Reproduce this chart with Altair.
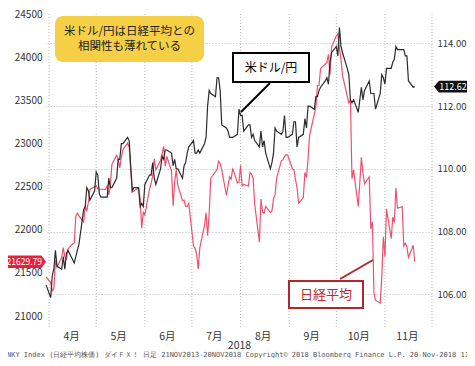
import altair as alt
import pandas as pd

# ---- data ----
nk_dates = ["03-30","04-02","04-03","04-04","04-05","04-06","04-09","04-10","04-11","04-12","04-13",
            "04-16","04-17","04-18","04-19","04-20","04-23","04-24","04-25","04-26","04-27",
            "05-01","05-02","05-07","05-08","05-09","05-10","05-11","05-14","05-15","05-16","05-17","05-18",
            "05-21","05-22","05-23","05-24","05-25","05-28","05-29","05-30","05-31","06-01",
            "06-04","06-05","06-06","06-07","06-08","06-11","06-12","06-13","06-14","06-15",
            "06-18","06-19","06-20","06-21","06-22","06-25","06-26","06-27","06-28","06-29",
            "07-02","07-03","07-04","07-05","07-06","07-09","07-10","07-11","07-12","07-13",
            "07-17","07-18","07-19","07-20","07-23","07-24","07-25","07-26","07-27","07-30","07-31",
            "08-01","08-02","08-03","08-06","08-07","08-08","08-09","08-10","08-13","08-14","08-15","08-16","08-17",
            "08-20","08-21","08-22","08-23","08-24","08-27","08-28","08-29","08-30","08-31",
            "09-03","09-04","09-05","09-06","09-07","09-10","09-11","09-12","09-13","09-14",
            "09-18","09-19","09-20","09-21","09-25","09-26","09-27","09-28",
            "10-01","10-02","10-03","10-04","10-05","10-09","10-10","10-11","10-12",
            "10-15","10-16","10-17","10-18","10-19","10-22","10-23","10-24","10-25","10-26",
            "10-29","10-30","10-31","11-01","11-02","11-05","11-06","11-07","11-08","11-09",
            "11-12","11-13","11-14","11-15","11-16","11-19","11-20"]
nk_values = [21454,21388,21292,21319,21645,21567,21678,21794,21687,21660,21778,
             21835,21847,22158,22191,22162,22088,22278,22215,22319,22467,
             22508,22472,22467,22508,22408,22497,22758,22865,22818,22717,22838,22930,
             23002,22960,22689,22437,22450,22481,22358,22018,22201,22171,
             22475,22539,22625,22823,22694,22804,22878,22966,22738,22851,
             22680,22278,22555,22693,22516,22338,22342,22271,22270,22304,
             21811,21785,21717,21546,21788,22052,22196,21932,22187,22597,
             22697,22794,22764,22698,22397,22510,22614,22586,22712,22544,22553,
             22746,22512,22525,22507,22662,22644,22598,22298,21857,22356,22204,22192,22270,
             22199,22219,22362,22410,22601,22799,22813,22848,22869,22865,
             22707,22696,22580,22487,22307,22373,22664,22604,22821,23094,
             23420,23672,23674,23869,23940,24033,23796,24120,
             24245,24270,24110,23975,23783,23469,23506,22590,22694,
             22271,22549,22841,22658,22532,22614,22010,22091,21268,21184,
             21149,21457,21920,21687,22243,21898,22147,22085,22486,22250,
             22269,21810,21846,21803,21680,21821,21629.79]

fx_dates = ["03-30","04-02","04-03","04-04","04-05","04-06","04-09","04-10","04-11","04-12","04-13",
            "04-16","04-17","04-18","04-19","04-20","04-23","04-24","04-25","04-26","04-27","04-30",
            "05-01","05-02","05-03","05-04","05-07","05-08","05-09","05-10","05-11","05-14","05-15","05-16","05-17","05-18",
            "05-21","05-22","05-23","05-24","05-25","05-28","05-29","05-30","05-31","06-01",
            "06-04","06-05","06-06","06-07","06-08","06-11","06-12","06-13","06-14","06-15",
            "06-18","06-19","06-20","06-21","06-22","06-25","06-26","06-27","06-28","06-29",
            "07-02","07-03","07-04","07-05","07-06","07-09","07-10","07-11","07-12","07-13",
            "07-16","07-17","07-18","07-19","07-20","07-23","07-24","07-25","07-26","07-27","07-30","07-31",
            "08-01","08-02","08-03","08-06","08-07","08-08","08-09","08-10","08-13","08-14","08-15","08-16","08-17",
            "08-20","08-21","08-22","08-23","08-24","08-27","08-28","08-29","08-30","08-31",
            "09-03","09-04","09-05","09-06","09-07","09-10","09-11","09-12","09-13","09-14",
            "09-17","09-18","09-19","09-20","09-21","09-24","09-25","09-26","09-27","09-28",
            "10-01","10-02","10-03","10-04","10-05","10-08","10-09","10-10","10-11","10-12",
            "10-15","10-16","10-17","10-18","10-19","10-22","10-23","10-24","10-25","10-26",
            "10-29","10-30","10-31","11-01","11-02","11-05","11-06","11-07","11-08","11-09",
            "11-12","11-13","11-14","11-15","11-16","11-19","11-20"]
fx_values = [106.3,105.9,106.6,106.8,107.4,106.9,106.8,107.2,106.8,107.3,107.4,
             107.1,107.0,107.2,107.4,107.6,108.7,108.8,109.4,109.3,109.0,109.3,
             109.9,109.8,109.2,109.1,109.1,109.1,109.7,109.4,109.4,109.7,110.3,110.3,110.8,110.8,
             111.0,110.9,110.1,109.3,109.4,109.4,108.8,108.9,108.8,109.5,
             109.8,109.8,110.2,109.7,109.5,110.0,110.4,110.3,110.6,110.6,
             110.5,110.1,110.3,110.0,110.0,109.7,110.1,110.2,110.5,110.7,
             110.9,110.5,110.5,110.6,110.5,110.8,111.0,112.0,112.5,112.4,
             112.3,112.9,112.9,112.5,111.4,111.3,111.2,111.0,111.0,111.0,111.1,111.9,
             111.7,111.7,111.2,111.4,111.4,111.0,111.1,110.9,110.7,111.2,110.7,110.9,110.5,
             110.0,110.2,110.5,111.3,111.2,111.1,111.2,111.7,111.0,111.0,
             111.1,111.5,111.5,110.7,111.0,111.1,111.6,111.3,112.0,112.0,
             111.9,112.3,112.3,112.5,112.6,112.8,112.9,112.7,113.4,113.7,
             113.9,113.6,114.5,113.9,113.7,113.2,113.0,112.2,112.1,112.2,
             111.8,112.2,112.6,112.2,112.5,112.8,112.4,112.4,112.4,111.9,
             112.4,113.0,112.9,112.7,113.2,113.2,113.4,113.5,113.9,113.8,
             113.8,113.8,113.6,113.6,112.8,112.6,112.62]

month_starts = ["04-01","05-01","06-01","07-01","08-01","09-01","10-01","11-01","12-01"]
month_labels = [4, 5, 6, 7, 8, 9, 10, 11]
left_ticks = [21000, 21500, 22000, 22500, 23000, 23500, 24000, 24500]
right_ticks = [106, 108, 110, 112, 114]
nk_last = 21629.79
fx_last = 112.62
note_lines = ["米ドル/円は日経平均との", "相関性も薄れている"]
label_fx = "米ドル/円"
label_nk = "日経平均"
year_label = "2018"
footer = "NKY Index (日経平均株価) ダイＦＸ！ 日足 21NOV2013-20NOV2018  Copyright© 2018 Bloomberg Finance L.P.   20-Nov-2018 11:41:24"

nk_df = pd.DataFrame({"date": ["2018-" + d for d in nk_dates], "nk": nk_values})
fx_df = pd.DataFrame({"date": ["2018-" + d for d in fx_dates], "fx": fx_values})
grid_df = pd.DataFrame({"date": ["2018-" + d for d in month_starts]})

FONT = "Noto Sans CJK JP"
RED = "#f0506e"
BLACK = "#2b2b2b"
DARKRED = "#b3262d"

xscale = alt.Scale(type="utc", domain=[alt.DateTime(year=2018, month=3, date=30, utc=True),
                                       alt.DateTime(year=2018, month=12, date=1, utc=True)])
xaxis = alt.Axis(values=[alt.DateTime(year=2018, month=m, date=15, utc=True) for m in month_labels],
                 labelExpr="(utcmonth(datum.value)+1) + '月'", grid=False, domain=False, ticks=False,
                 labelPadding=3, labelFontSize=10.5, labelColor="#333", labelFont=FONT,
                 titleFont=FONT, titleFontSize=10.5, titleFontWeight="normal", titleColor="#333",
                 titleBaseline="middle", titleY=17)

def X(field):
    return alt.X(f"{field}:T", scale=xscale, axis=xaxis, title=year_label)

lscale = alt.Scale(domain=[20862, 24500], nice=False, zero=False)
laxis = alt.Axis(values=left_ticks, format="d", grid=False, domain=False, ticks=False, labelPadding=4,
                 labelFontSize=10, labelColor="#333", labelFont=FONT, title=None)
rscale = alt.Scale(domain=[104.926, 114.934], nice=False, zero=False)
raxis = alt.Axis(orient="right", values=right_ticks, format=".2f", grid=True, gridDash=[1, 2],
                 gridColor="#b8b8b8", domain=False, ticks=False, labelPadding=5, labelFontSize=9.5,
                 labelColor="#333", labelFont=FONT, title=None)

vgrid = alt.Chart(grid_df).mark_rule(color="#b8b8b8", strokeDash=[1, 2], strokeWidth=1).encode(x=X("date"))

nk_line = alt.Chart(nk_df).mark_line(color=RED, strokeWidth=1.2).encode(
    x=X("date"), y=alt.Y("nk:Q", scale=lscale, axis=laxis))
nk_tag = alt.Chart(pd.DataFrame({"v": [nk_last]})).mark_point(
    shape="M -1 -0.27 L 0.8 -0.27 L 1 0 L 0.8 0.27 L -1 0.27 Z", filled=True, fill="#e8203a",
    size=2116, opacity=1, strokeWidth=0).encode(x=alt.value(-23), y=alt.Y("v:Q", scale=lscale, axis=laxis))
nk_tag_text = alt.Chart(pd.DataFrame({"v": [nk_last]})).mark_text(
    align="right", baseline="middle", color="white", fontSize=8.5, font=FONT).encode(
    x=alt.value(-4), y=alt.Y("v:Q", scale=lscale, axis=laxis), text=alt.Text("v:Q", format=".2f"))
nk_layer = alt.layer(nk_line, nk_tag, nk_tag_text)

fx_line = alt.Chart(fx_df).mark_line(color=BLACK, strokeWidth=1.2).encode(
    x=X("date"), y=alt.Y("fx:Q", scale=rscale, axis=raxis))
fx_tag = alt.Chart(pd.DataFrame({"v": [fx_last]})).mark_point(
    shape="M -1 0 L -0.7 -0.36 L 1 -0.36 L 1 0.36 L -0.7 0.36 Z", filled=True, fill="#111111",
    size=1089, opacity=1, strokeWidth=0).encode(x=alt.value(404.5), y=alt.Y("v:Q", scale=rscale, axis=raxis))
fx_tag_text = alt.Chart(pd.DataFrame({"v": [fx_last]})).mark_text(
    align="center", baseline="middle", color="white", fontSize=9, font=FONT).encode(
    x=alt.value(407), y=alt.Y("v:Q", scale=rscale, axis=raxis), text=alt.Text("v:Q", format=".2f"))
fx_layer = alt.layer(fx_line, fx_tag, fx_tag_text)

one = pd.DataFrame({"a": [0]})
note_box = alt.Chart(one).mark_rect(cornerRadius=8, fill="#f5cf46").encode(
    x=alt.value(9), x2=alt.value(158), y=alt.value(2), y2=alt.value(48))
note1 = alt.Chart(one).mark_text(fontSize=11.5, font=FONT, color="#222", baseline="middle").encode(
    x=alt.value(83.5), y=alt.value(17.5), text=alt.value(note_lines[0]))
note2 = alt.Chart(one).mark_text(fontSize=11.5, font=FONT, color="#222", baseline="middle").encode(
    x=alt.value(83.5), y=alt.value(32.5), text=alt.value(note_lines[1]))

fx_ptr = alt.Chart(one).mark_rule(color="#000", strokeWidth=2).encode(
    x=alt.value(224), y=alt.value(69), x2=alt.value(195), y2=alt.value(98))
fx_box = alt.Chart(one).mark_rect(fill="white", stroke="#000", strokeWidth=2).encode(
    x=alt.value(187), x2=alt.value(263), y=alt.value(39), y2=alt.value(68))
fx_text = alt.Chart(one).mark_text(fontSize=12, font=FONT, color="#000", baseline="middle").encode(
    x=alt.value(225), y=alt.value(54), text=alt.value(label_fx))

nk_ptr = alt.Chart(one).mark_rule(color=DARKRED, strokeWidth=2).encode(
    x=alt.value(294), y=alt.value(265), x2=alt.value(327), y2=alt.value(246))
nk_box = alt.Chart(one).mark_rect(fill="white", stroke=DARKRED, strokeWidth=2).encode(
    x=alt.value(243), x2=alt.value(317), y=alt.value(267), y2=alt.value(294))
nk_text = alt.Chart(one).mark_text(fontSize=13, font=FONT, color="#c0272d", baseline="middle").encode(
    x=alt.value(280), y=alt.value(281), text=alt.value(label_nk))

foot = alt.Chart(one).mark_text(fontSize=7, font="DejaVu Sans Mono", color="#555", align="left",
                                baseline="middle").encode(
    x=alt.value(-39), y=alt.value(341), text=alt.value(footer))

chart = alt.layer(
    vgrid, nk_layer, fx_layer,
    note_box, note1, note2,
    fx_ptr, fx_box, fx_text,
    nk_ptr, nk_box, nk_text, foot
).resolve_scale(y="independent").properties(
    width=386, height=314, background="white",
    autosize=alt.AutoSizeParams(type="none"),
    padding={"left": 38, "top": 6, "right": 35, "bottom": 30}
).configure_view(strokeWidth=0)

chart.save("out.html", embed_options={"renderer": "svg", "actions": False})
